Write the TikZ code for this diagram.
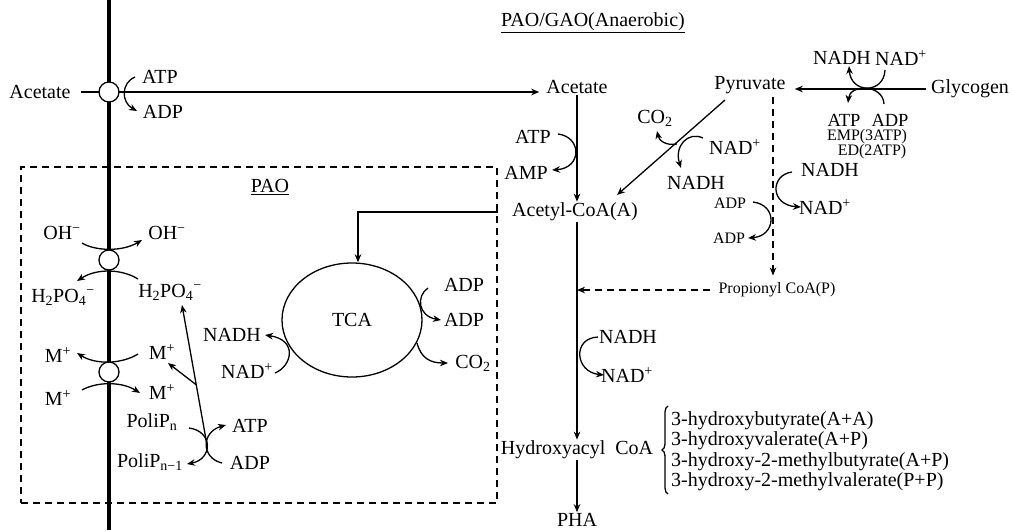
\documentclass[tikz,border=0pt]{standalone}
\usepackage{fontspec}
\setmainfont{Liberation Serif}
\usetikzlibrary{arrows.meta,shapes.geometric,calc,decorations.pathreplacing}
\begin{document}
\begin{tikzpicture}[x=1pt,y=-1pt,
  txt/.style={inner sep=1pt,font=\fontsize{20}{22}\selectfont},
  sm/.style={inner sep=1pt,font=\fontsize{16}{18}\selectfont},
  ln/.style={line width=1.3pt},
  arr/.style={ln,-{Stealth[length=8pt,width=6.5pt,inset=2.5pt]}},
  dsh/.style={ln,dash pattern=on 7pt off 5pt},
  pore/.style={circle,draw,fill=white,line width=1.3pt,minimum size=20pt,inner sep=0pt}]
\useasboundingbox (0,0) rectangle (1012,531);

% PAO box and membrane
\node[draw,dsh,minimum width=476pt,minimum height=336pt,inner sep=0pt] (paobox) at (259,335) {};
\coordinate (memT) at (109,0);
\coordinate (memB) at (109,530);
\draw[line width=4pt] (memT) -- (memB);

% titles
\node[txt] (title) at (593,23) {\underline{PAO/GAO(Anaerobic)}};
\node[txt] (pao) at (270,187) {\underline{PAO}};

% left labels
\node[txt] (acL) at (40,92) {Acetate};
\node[txt] (atp1) at (160,77) {ATP};
\node[txt] (adp1) at (163,112) {ADP};
\node[txt] (OHl) at (62,233) {OH\textsuperscript{−}};
\node[txt] (OHr) at (167,233) {OH\textsuperscript{−}};
\node[txt] (Hl) at (63,297) {H\textsubscript{2}PO\textsubscript{4}\textsuperscript{−}};
\node[txt] (Hr) at (170,292) {H\textsubscript{2}PO\textsubscript{4}\textsuperscript{−}};
\node[txt] (Ml1) at (58,355) {M\textsuperscript{+}};
\node[txt] (Mr1) at (162,352) {M\textsuperscript{+}};
\node[txt] (Ml2) at (58,398) {M\textsuperscript{+}};
\node[txt] (Mr2) at (162,392) {M\textsuperscript{+}};
\node[txt] (polin) at (152,422) {PoliP\textsubscript{n}};
\node[txt] (atp2) at (250,426) {ATP};
\node[txt] (polin1) at (150,462) {PoliP\textsubscript{n−1}};
\node[txt] (adp2) at (250,463) {ADP};

% TCA
\node[ellipse,draw,ln,minimum width=140pt,minimum height=114pt,txt] (tca) at (352,320) {TCA};
\node[txt] (nadh1) at (232,335) {NADH};
\node[txt] (nad1) at (247,371) {NAD\textsuperscript{+}};
\node[txt] (adp3) at (464,285) {ADP};
\node[txt] (adp4) at (464,320) {ADP};
\node[txt] (co2a) at (473,363) {CO\textsubscript{2}};

% right side labels
\node[txt] (acR) at (577,87) {Acetate};
\node[txt] (atp3) at (533,137) {ATP};
\node[txt] (amp) at (526,173) {AMP};
\node[txt] (acoa) at (575,212) {Acetyl-CoA(A)};
\node[txt] (pyr) at (750,85) {Pyruvate};
\node[txt] (glyc) at (970,89) {Glycogen};
\node[txt] (nadh2) at (842,58) {NADH};
\node[txt] (nad2) at (901,58) {NAD\textsuperscript{+}};
\node[txt,font=\fontsize{18.5}{20}\selectfont] (atp4) at (844,120) {ATP};
\node[txt,font=\fontsize{18.5}{20}\selectfont] (adp5) at (890,120) {ADP};
\node[sm] (emp) at (867,137) {EMP(3ATP)};
\node[sm] (ed) at (872,152) {ED(2ATP)};
\node[txt] (co2b) at (655,118) {CO\textsubscript{2}};
\node[txt] (nad3) at (735,147) {NAD\textsuperscript{+}};
\node[txt] (nadh3) at (696,183) {NADH};
\node[txt] (nadh4) at (830,170) {NADH};
\node[txt] (nad4) at (825,207) {NAD\textsuperscript{+}};
\node[sm] (adp6) at (730,203) {ADP};
\node[sm] (adp7) at (729,238) {ADP};
\node[sm] (prop) at (777,290) {Propionyl CoA(P)};
\node[txt] (nadh5) at (628,337) {NADH};
\node[txt] (nad5) at (627,375) {NAD\textsuperscript{+}};
\node[txt] (hyd) at (577,450) {Hydroxyacyl\ \ CoA};
\node[txt,anchor=west,align=left,font=\fontsize{20}{20.5}\selectfont] (lst) at (670,451)
  {3-hydroxybutyrate(A+A)\\3-hydroxyvalerate(A+P)\\3-hydroxy-2-methylbutyrate(A+P)\\3-hydroxy-2-methylvalerate(P+P)};
\node[txt] (pha) at (577,520) {PHA};

% acetate uptake
\draw[arr,shorten <=9pt,shorten >=6pt] (acL.east) -- (acL.east -| acR.west);
\draw[arr] (135,77) .. controls (121,83) and (121,102) .. (137,111);

% OH / phosphate antiport
\draw[arr] (82,243) .. controls (95,251) and (122,252) .. (142,240);
\draw[arr] (138,279) .. controls (122,269) and (97,268) .. (77,281);
% M+ transporter
\draw[arr] (138,354) .. controls (122,364) and (96,365) .. (77,353);
\draw[arr] (82,390) .. controls (96,382) and (121,381) .. (140,393);

% polyP hydrolysis
\coordinate (px) at (207,445);
\coordinate (hp) at (182,305);
\coordinate (mp) at (168,363);
\draw[arr] (px) -- (hp);
\draw[arr] ($(px)!0.43!(hp)$) -- (mp);
\draw[arr] (189,428) .. controls (213,431) and (213,459) .. (187,464);
\draw[arr] (222,463) .. controls (201,458) and (201,432) .. (226,425);

% pores
\node[pore] (c1) at (109,92) {};
\node[pore] (c2) at (109,260) {};
\node[pore] (c3) at (109,372) {};

% TCA connections
\draw[arr] (paobox.east |- acoa) -| ([xshift=6pt]tca.north);
\draw[arr] (428,288) .. controls (416,296) and (418,316) .. (441,320);
\draw[arr] (417,343) .. controls (421,358) and (430,363) .. (448,363);
\draw[arr] (275,373) .. controls (292,366) and (298,340) .. (265,335);

% acetate -> acetyl-CoA
\draw[arr] (acR.south) -- (acR.south |- acoa.north);
\draw[arr] (558,134) .. controls (582,137) and (582,168) .. (552,170);

% pyruvate -> acetyl-CoA
\coordinate (pyrS) at (725,100);
\coordinate (pyrE) at (617,195);
\draw[arr] (pyrS) -- (pyrE);
\draw[arr] (703,138) .. controls (688,131) and (674,146) .. (681,168);
\draw[arr] (677,144) .. controls (665,146) and (659,140) .. (657,131);

% glycogen -> pyruvate
\draw[arr,shorten <=4pt,shorten >=8pt] (glyc.west) -- (glyc.west -| pyr.east);
\draw[arr] (885,70) .. controls (884,94) and (851,94) .. (849,66);
\draw[arr] (884,104) .. controls (883,84) and (850,84) .. (848,103);

% pyruvate -> propionyl CoA
\coordinate (dvt) at (773,97);
\draw[dsh,arr,shorten >=6pt] (dvt) -- (dvt |- prop.north);
\draw[arr] (792,172) .. controls (770,175) and (770,205) .. (801,207);
\draw[arr] (753,202) .. controls (778,205) and (776,236) .. (748,238);
\draw[dsh,arr,shorten <=7pt] (prop.west) -- (prop.west -| acR.south);

% acetyl-CoA -> hydroxyacyl CoA -> PHA
\draw[arr] (acoa.south -| acR.south) -- (hyd.north -| acR.south);
\draw[arr] (598,337) .. controls (572,338) and (575,372) .. (604,375);
\draw[arr] (hyd.south -| acR.south) -- (pha.north);
\draw[ln,decorate,decoration={brace,amplitude=6pt}] (668,494) -- (668,406);
\end{tikzpicture}
\end{document}
